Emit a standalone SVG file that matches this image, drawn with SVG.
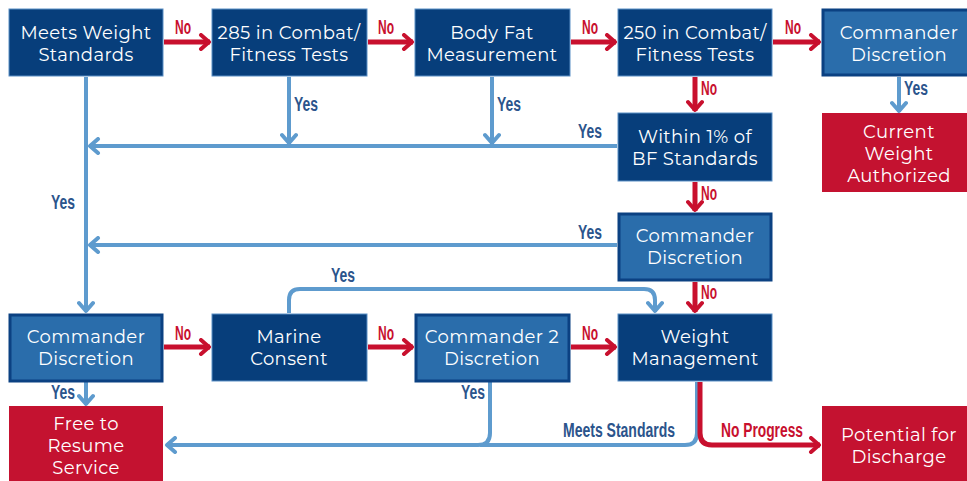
<svg xmlns="http://www.w3.org/2000/svg" width="967" height="481" viewBox="0 0 967 481">
<style>
.dk{fill:#073e7b;stroke:#5b8fc6;stroke-width:1}
.lt{fill:#2a6dab;stroke:#0b4182;stroke-width:3}
.rd{fill:#c41230}
.t{font-family:Montserrat,"Open Sans","Liberation Sans",sans-serif;font-size:18px;fill:#ffffff;text-anchor:middle;letter-spacing:0.4px}
.lb{font-family:"Liberation Sans","DejaVu Sans",sans-serif;font-size:20px;font-weight:bold;text-anchor:middle}
.y{fill:#2b548c}
.n{fill:#c8102e}
.bl{fill:none;stroke:#5e9bce;stroke-width:4}
.rl{fill:none;stroke:#c8102e;stroke-width:5}
</style>
<defs>
<marker id="ar" viewBox="0 0 14 18" refX="12" refY="9" markerWidth="14" markerHeight="18" orient="auto" markerUnits="userSpaceOnUse"><path d="M3,2 L11,9 L3,16" fill="none" stroke="#c8102e" stroke-width="4" stroke-linecap="round" stroke-linejoin="round"/></marker>
<marker id="ab" viewBox="0 0 14 18" refX="12" refY="9" markerWidth="14" markerHeight="18" orient="auto" markerUnits="userSpaceOnUse"><path d="M3,2 L11,9 L3,16" fill="none" stroke="#5e9bce" stroke-width="4" stroke-linecap="round" stroke-linejoin="round"/></marker>
</defs>
<rect width="967" height="481" fill="#ffffff"/>
<g id="connectors">
<path class="rl" d="M164,42 H210" marker-end="url(#ar)"/>
<path class="rl" d="M368,42 H413" marker-end="url(#ar)"/>
<path class="rl" d="M571,42 H616" marker-end="url(#ar)"/>
<path class="rl" d="M773,42 H820" marker-end="url(#ar)"/>
<path class="rl" d="M695,77 V111" marker-end="url(#ar)"/>
<path class="rl" d="M695,182 V211" marker-end="url(#ar)"/>
<path class="rl" d="M695,282 V312" marker-end="url(#ar)"/>
<path class="rl" d="M164,347 H210" marker-end="url(#ar)"/>
<path class="rl" d="M368,347 H413" marker-end="url(#ar)"/>
<path class="rl" d="M571,347 H616" marker-end="url(#ar)"/>
<path class="bl" d="M86,77 V312" marker-end="url(#ab)"/>
<path class="bl" d="M617,146 H89" marker-end="url(#ab)"/>
<path class="bl" d="M289,77 V144" marker-end="url(#ab)"/>
<path class="bl" d="M492,77 V144" marker-end="url(#ab)"/>
<path class="bl" d="M617,245 H89" marker-end="url(#ab)"/>
<path class="bl" d="M289,313 V300 Q289,289 300,289 H644 Q655,289 655,300 V312" marker-end="url(#ab)"/>
<path class="bl" d="M899,77 V112" marker-end="url(#ab)"/>
<path class="bl" d="M86,382 V405" marker-end="url(#ab)"/>
<path class="bl" d="M490,382 V433 Q490,445 478,445 H166" marker-end="url(#ab)"/>
<path class="bl" d="M697,382 V433 Q697,445 685,445 H480"/>
<path class="rl" d="M700,382 V433 Q700,445 712,445 H820" marker-end="url(#ar)"/>
<text class="lb n" x="183" y="34" textLength="16" lengthAdjust="spacingAndGlyphs">No</text>
<text class="lb n" x="386" y="34" textLength="16" lengthAdjust="spacingAndGlyphs">No</text>
<text class="lb n" x="590" y="34" textLength="16" lengthAdjust="spacingAndGlyphs">No</text>
<text class="lb n" x="793" y="34" textLength="16" lengthAdjust="spacingAndGlyphs">No</text>
<text class="lb n" x="709" y="95" textLength="16" lengthAdjust="spacingAndGlyphs">No</text>
<text class="lb n" x="709" y="200" textLength="16" lengthAdjust="spacingAndGlyphs">No</text>
<text class="lb n" x="709" y="299" textLength="16" lengthAdjust="spacingAndGlyphs">No</text>
<text class="lb n" x="183" y="340" textLength="16" lengthAdjust="spacingAndGlyphs">No</text>
<text class="lb n" x="386" y="340" textLength="16" lengthAdjust="spacingAndGlyphs">No</text>
<text class="lb n" x="590" y="340" textLength="16" lengthAdjust="spacingAndGlyphs">No</text>
<text class="lb y" x="306" y="111" textLength="24" lengthAdjust="spacingAndGlyphs">Yes</text>
<text class="lb y" x="509" y="111" textLength="24" lengthAdjust="spacingAndGlyphs">Yes</text>
<text class="lb y" x="916" y="95" textLength="24" lengthAdjust="spacingAndGlyphs">Yes</text>
<text class="lb y" x="590" y="138" textLength="24" lengthAdjust="spacingAndGlyphs">Yes</text>
<text class="lb y" x="590" y="239" textLength="24" lengthAdjust="spacingAndGlyphs">Yes</text>
<text class="lb y" x="63" y="209" textLength="24" lengthAdjust="spacingAndGlyphs">Yes</text>
<text class="lb y" x="343" y="282" textLength="24" lengthAdjust="spacingAndGlyphs">Yes</text>
<text class="lb y" x="63" y="399" textLength="24" lengthAdjust="spacingAndGlyphs">Yes</text>
<text class="lb y" x="473" y="399" textLength="24" lengthAdjust="spacingAndGlyphs">Yes</text>
<text class="lb y" x="619" y="437" textLength="112" lengthAdjust="spacingAndGlyphs">Meets Standards</text>
<text class="lb n" x="762" y="437" textLength="82" lengthAdjust="spacingAndGlyphs">No Progress</text>
</g>
<g id="meets-weight"><rect class="dk" x="9" y="9" width="154" height="67"/><text class="t" x="86" y="39">Meets Weight</text><text class="t" x="86" y="61">Standards</text></g>
<g id="combat-285"><rect class="dk" x="212" y="9" width="155" height="67"/><text class="t" x="289" y="39">285 in Combat/</text><text class="t" x="289" y="61">Fitness Tests</text></g>
<g id="body-fat"><rect class="dk" x="415" y="9" width="155" height="67"/><text class="t" x="492" y="39">Body Fat</text><text class="t" x="492" y="61">Measurement</text></g>
<g id="combat-250"><rect class="dk" x="618" y="9" width="154" height="67"/><text class="t" x="695" y="39">250 in Combat/</text><text class="t" x="695" y="61">Fitness Tests</text></g>
<g id="commander-top"><rect class="lt" x="823" y="10" width="152" height="65"/><text class="t" x="899" y="39">Commander</text><text class="t" x="899" y="61">Discretion</text></g>
<g id="within-1"><rect class="dk" x="618" y="113" width="154" height="68"/><text class="t" x="695" y="143">Within 1% of</text><text class="t" x="695" y="165">BF Standards</text></g>
<g id="current-weight"><rect class="rd" x="822" y="113" width="150" height="79"/><text class="t" x="899" y="138">Current</text><text class="t" x="899" y="160">Weight</text><text class="t" x="899" y="182">Authorized</text></g>
<g id="commander-mid"><rect class="lt" x="619" y="214" width="152" height="66"/><text class="t" x="695" y="242">Commander</text><text class="t" x="695" y="264">Discretion</text></g>
<g id="commander-left"><rect class="lt" x="10" y="315" width="152" height="66"/><text class="t" x="86" y="343">Commander</text><text class="t" x="86" y="365">Discretion</text></g>
<g id="marine-consent"><rect class="dk" x="212" y="314" width="155" height="67"/><text class="t" x="289" y="343">Marine</text><text class="t" x="289" y="365">Consent</text></g>
<g id="commander-2"><rect class="lt" x="416" y="315" width="153" height="66"/><text class="t" x="492" y="343">Commander 2</text><text class="t" x="492" y="365">Discretion</text></g>
<g id="weight-mgmt"><rect class="dk" x="618" y="314" width="154" height="67"/><text class="t" x="695" y="343">Weight</text><text class="t" x="695" y="365">Management</text></g>
<g id="free-resume"><rect class="rd" x="9" y="406" width="154" height="80"/><text class="t" x="86" y="430">Free to</text><text class="t" x="86" y="452">Resume</text><text class="t" x="86" y="474">Service</text></g>
<g id="potential-discharge"><rect class="rd" x="822" y="406" width="150" height="80"/><text class="t" x="899" y="441">Potential for</text><text class="t" x="899" y="463">Discharge</text></g>
</svg>
